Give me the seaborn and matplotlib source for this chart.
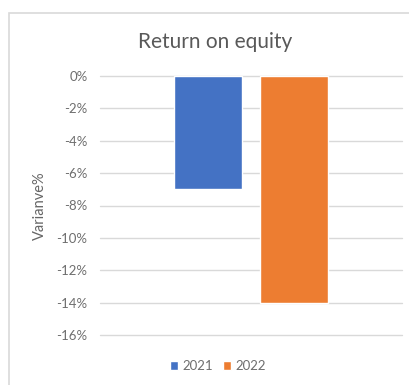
import matplotlib
matplotlib.use("Agg")
import matplotlib.pyplot as plt
from matplotlib.patches import Rectangle
import seaborn as sns
import pandas as pd

# Chart data
title = "Return on equity"
y_label = "Varianve%"
years = ["2021", "2022"]
variance = [-7, -14]
y_ticks = [0, -2, -4, -6, -8, -10, -12, -14, -16]
y_tick_labels = ["0%", "-2%", "-4%", "-6%", "-8%", "-10%", "-12%", "-14%", "-16%"]
colors = ["#4472C4", "#ED7D31"]

df = pd.DataFrame({"category": [""] * len(years), "year": years, "variance": variance})

sns.set_theme(style="white")
plt.rcParams["font.family"] = ["Lato", "DejaVu Sans"]

fig = plt.figure(figsize=(4.10, 3.85), dpi=100)
ax = fig.add_axes([100 / 410, 1 - 335 / 385, 302 / 410, (335 - 76) / 385])

sns.barplot(data=df, x="category", y="variance", hue="year", palette=colors,
            width=0.57, gap=0.22, ax=ax, legend=True, saturation=1)

ax.set_xlim(-0.5, 0.5)
ax.set_ylim(-16, 0)
ax.set_yticks(y_ticks)
ax.set_yticklabels(y_tick_labels)
ax.set_xticks([])
ax.set_xlabel("")
ax.set_ylabel(y_label, color="#666666", fontsize=10.5, labelpad=7)
ax.tick_params(axis="y", length=0, labelsize=9.5, labelcolor="#6E6E6E", pad=9)
ax.grid(axis="y", color="#D9D9D9", linewidth=1)
for line in ax.get_ygridlines():
    line.set_clip_on(False)
ax.set_axisbelow(True)
for s in ax.spines.values():
    s.set_visible(False)

fig.text(215 / 410, 1 - 42 / 385, title, ha="center", va="center",
         fontsize=15, color="#595959")

handles, labels = ax.get_legend_handles_labels()
ax.legend_.remove()
fig.legend(handles, labels, loc="center", bbox_to_anchor=(218 / 410, 1 - 366 / 385),
           ncol=2, frameon=False, fontsize=9.5, labelcolor="#6E6E6E",
           handlelength=0.6, handleheight=0.6, handletextpad=0.3, columnspacing=0.8)

# outer chart frame
fig.patches.append(Rectangle((9 / 410, -0.05), 1.0, 1 - 13 / 385 + 0.05,
                             transform=fig.transFigure, fill=False,
                             edgecolor="#D9D9D9", linewidth=1.2))

fig.savefig("out.png", dpi=100)
